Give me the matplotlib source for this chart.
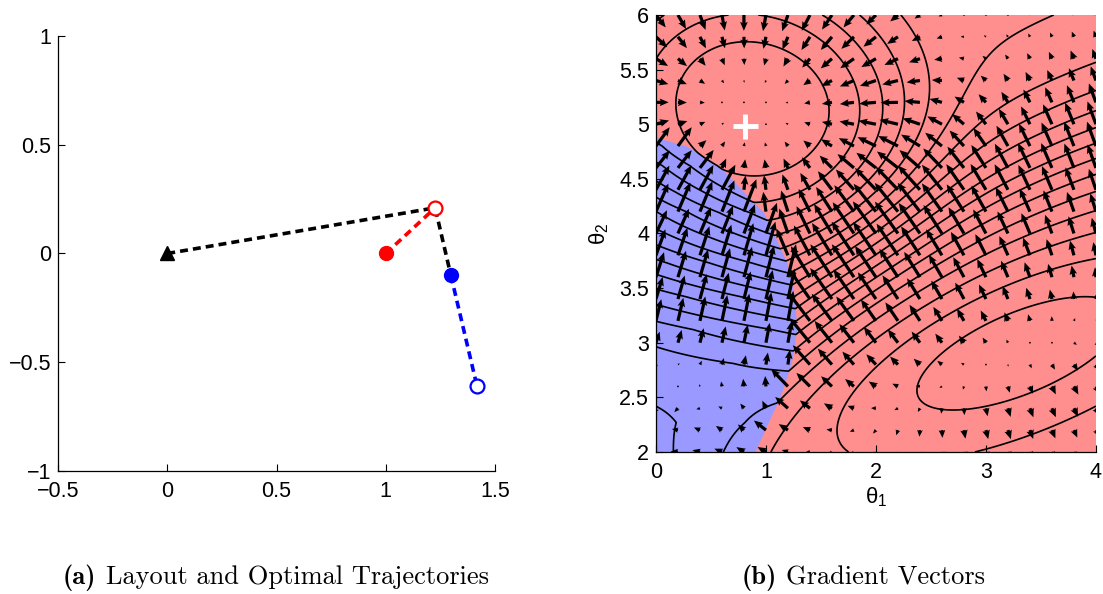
import numpy as np
import matplotlib
matplotlib.use("Agg")
import matplotlib.pyplot as plt
from matplotlib.ticker import FuncFormatter

plt.rcParams['font.family'] = ['Liberation Sans', 'DejaVu Sans']
plt.rcParams['mathtext.fontset'] = 'custom'
plt.rcParams['mathtext.rm'] = 'Liberation Sans'
plt.rcParams['mathtext.it'] = 'Liberation Sans'

# ---------------- panel (a): layout ----------------
arm_x = [0.0, 1.226, 1.298]
arm_y = [0.0, 0.210, -0.101]
red_x = [1.0, 1.226]
red_y = [0.0, 0.210]
blue_x = [1.298, 1.417]
blue_y = [-0.101, -0.608]

# ---------------- panel (b): cost surface (in contour steps) ----------------
# steep ramp between the low and high plateaus, centred on this curve
ramp_theta1 = [1.0, 2.0, 3.0, 4.0]
ramp_theta2 = [2.95, 3.75, 4.4, 4.85]
ramp_height = 10.0
ramp_width = 0.75

peak_center = (0.9, 5.12)
peak_sigma = (1.0, 0.85)
peak_angle = -20.0
peak_height = 5.4
peak_flatness = 1.5

valley_center = (3.25, 2.95)
valley_sigma = (1.6, 0.62)
valley_angle = 22.0
valley_height = -3.0

# edge of the blue region (theta1 as a function of theta2) and the
# cross-slope of the surface inside it
edge_theta2 = [2.0, 2.27, 2.51, 2.81, 3.12, 3.42, 3.73, 4.0, 4.19, 4.38, 4.62, 4.8, 4.88]
edge_theta1 = [0.9, 1.02, 1.13, 1.23, 1.28, 1.26, 1.19, 1.07, 0.98, 0.8, 0.57, 0.28, 0.0]
edge_slope = [-2.2, -1.6, -0.6, 0.6, 1.4, 2.0, 2.6, 3.2, 3.6, 3.9, 4.0, 4.0, 4.0]

levels = np.arange(-2.3, 18, 1.0)
optimum = (0.81, 4.98)

RED = '#FF8F8F'
BLUE = '#9999FF'


def bump(t1, t2, center, sigma, angle, height, flatness=1.0):
    a = np.deg2rad(angle)
    dx, dy = t1 - center[0], t2 - center[1]
    u = dx * np.cos(a) + dy * np.sin(a)
    v = -dx * np.sin(a) + dy * np.cos(a)
    q = 0.5 * ((u / sigma[0]) ** 2 + (v / sigma[1]) ** 2)
    return height * np.exp(-q ** flatness)


ramp_coef = np.polyfit(ramp_theta1, ramp_theta2, 2)


def surface_red(t1, t2):
    s = (t2 - np.polyval(ramp_coef, t1)) / ramp_width
    return (0.5 * ramp_height * (1 + np.tanh(s))
            + bump(t1, t2, peak_center, peak_sigma, peak_angle, peak_height, peak_flatness)
            + bump(t1, t2, valley_center, valley_sigma, valley_angle, valley_height))


t1 = np.linspace(0, 4, 401)
t2 = np.linspace(2, 6, 401)
T1, T2 = np.meshgrid(t1, t2)
edge_at = np.interp(T2, edge_theta2, edge_theta1, right=0.0)
slope_at = np.interp(T2, edge_theta2, edge_slope)
inside = T1 < edge_at
F = np.where(inside,
             surface_red(edge_at, T2) - slope_at * (edge_at - T1),
             surface_red(T1, T2))

dF2, dF1 = np.gradient(F, t2, t1)
step = 20
Q1, Q2 = T1[::step, ::step], T2[::step, ::step]
U, V = dF1[::step, ::step], dF2[::step, ::step]

fig = plt.figure(figsize=(11.03, 5.94), dpi=100)
fmt = FuncFormatter(lambda v, p: ('%g' % v).replace('-', '\u2212'))

# panel (a)
axa = fig.add_axes([0.0526, 0.2071, 0.3962, 0.7323])
dash = (0, (2.2, 1.4))
axa.plot(arm_x, arm_y, color='k', ls=dash, lw=2.6, zorder=2)
axa.plot(red_x, red_y, color='red', ls=dash, lw=2.6, zorder=2)
axa.plot(blue_x, blue_y, color='blue', ls=dash, lw=2.6, zorder=2)
axa.plot(arm_x[0], arm_y[0], marker='^', color='k', ms=10, zorder=3)
axa.plot(red_x[0], red_y[0], marker='o', color='red', ms=10, zorder=3)
axa.plot(red_x[1], red_y[1], marker='o', mfc='white', mec='red', mew=1.6, ms=10, zorder=3)
axa.plot(blue_x[0], blue_y[0], marker='o', color='blue', ms=10, zorder=3)
axa.plot(blue_x[1], blue_y[1], marker='o', mfc='white', mec='blue', mew=1.6, ms=10, zorder=3)
axa.set_xlim(-0.5, 1.5)
axa.set_ylim(-1, 1)
axa.set_xticks([-0.5, 0, 0.5, 1, 1.5])
axa.set_yticks([-1, -0.5, 0, 0.5, 1])

# panel (b)
axb = fig.add_axes([0.5947, 0.2391, 0.3989, 0.7357])
axb.set_facecolor(RED)
axb.fill_betweenx(edge_theta2, 0, edge_theta1, color=BLUE, lw=0, zorder=1)
axb.contour(T1, T2, F, levels=levels, colors='k', linewidths=1.2, linestyles='solid', zorder=2)
axb.quiver(Q1, Q2, U, V, angles='xy', scale_units='xy', scale=32.0, pivot='tail',
           units='dots', width=3.2, headwidth=2.4, headlength=2.8, headaxislength=2.5,
           minlength=0.6, color='k', zorder=3)
axb.plot(*optimum, marker='+', color='white', ms=18, mew=3.5, zorder=4)
axb.set_xlim(0, 4)
axb.set_ylim(2, 6)
axb.set_xticks([0, 1, 2, 3, 4])
axb.set_yticks([2, 2.5, 3, 3.5, 4, 4.5, 5, 5.5, 6])
axb.set_xlabel(r'$\mathregular{\theta_1}$', fontsize=16, labelpad=2)
axb.set_ylabel(r'$\mathregular{\theta_2}$', fontsize=16, labelpad=6)

for ax in (axa, axb):
    ax.xaxis.set_major_formatter(fmt)
    ax.yaxis.set_major_formatter(fmt)
    ax.spines['top'].set_visible(False)
    ax.spines['right'].set_visible(False)
    ax.spines['left'].set_linewidth(0.9)
    ax.spines['bottom'].set_linewidth(0.9)
    ax.tick_params(direction='in', length=5, width=0.8, labelsize=15.5, pad=5)
    ax.tick_params(axis='x', pad=7)
    ax.set_axisbelow(False)


def caption(xc, tag, body, size=19):
    """Bold tag followed by roman body, centred as a whole at xc (figure fraction)."""
    renderer = fig.canvas.get_renderer()
    a = fig.text(0, 0.028, tag, fontsize=size, family='cmb10', va='center')
    b = fig.text(0, 0.028, body, fontsize=size, family='cmr10', va='center')
    wa = a.get_window_extent(renderer).width / fig.bbox.width
    wb = b.get_window_extent(renderer).width / fig.bbox.width
    gap = 0.35 * size / 72 * fig.dpi / fig.bbox.width
    x0 = xc - (wa + gap + wb) / 2
    a.set_x(x0)
    b.set_x(x0 + wa + gap)


caption(0.250, '(a)', 'Layout and Optimal Trajectories')
caption(0.783, '(b)', 'Gradient Vectors')

fig.savefig('out.png', dpi=100)
